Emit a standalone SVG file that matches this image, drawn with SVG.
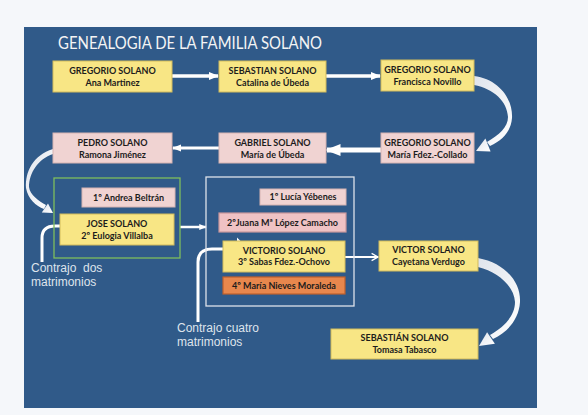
<svg xmlns="http://www.w3.org/2000/svg" width="588" height="415" viewBox="0 0 588 415">
<style>
.y{fill:#f8e685;stroke:#d2bb5c;stroke-width:1}
.p{fill:#f0d3d2;stroke:#d6b3b2;stroke-width:1}
.pk{fill:#efc2c4;stroke:#c9979c;stroke-width:1.2}
.o{fill:#e8874d;stroke:#bf5f2c;stroke-width:1.2}
.t{font-family:Lato,"Liberation Sans",sans-serif;font-weight:bold;font-size:9px;fill:#1c1c1c;text-anchor:middle}
.c{font-family:"Liberation Sans",Arial,sans-serif;font-size:12px;fill:#dfe4ec}
.ln{stroke:#ffffff;fill:none}
.cr{fill:url(#gr);stroke:none}
</style>
<defs>
<linearGradient id="gr" x1="0" y1="0" x2="1" y2="1">
<stop offset="0" stop-color="#dfe4ec"/>
<stop offset="1" stop-color="#ffffff"/>
</linearGradient>
<marker id="ah" viewBox="0 0 10 10" refX="9" refY="5" markerWidth="3" markerHeight="3" orient="auto" markerUnits="strokeWidth">
<path d="M0 1 L10 5 L0 9 Z" fill="#ffffff"/>
</marker>
<marker id="ch" viewBox="0 0 10 10" refX="9" refY="5" markerWidth="4" markerHeight="5" orient="auto" markerUnits="strokeWidth">
<path d="M1 0.5 L9 5 L1 9.5" fill="none" stroke="#ffffff" stroke-width="1.6"/>
</marker>
</defs>
<rect x="0" y="0" width="588" height="415" fill="#f5f7fa"/>
<rect x="24" y="27" width="513" height="381" fill="#305a89"/>
<text x="58" y="49" font-family="Lato,'Liberation Sans',sans-serif" font-size="16.5" fill="#f4f4f4" textLength="264" lengthAdjust="spacingAndGlyphs">GENEALOGIA DE LA FAMILIA SOLANO</text>

<g id="connectors">
<path class="ln" d="M172 76 H218" stroke-width="3.5" marker-end="url(#ah)"/>
<path class="ln" d="M326 76 H380" stroke-width="3.5" marker-end="url(#ah)"/>
<path class="ln" d="M381 150 H327" stroke-width="5" marker-end="url(#ah)"/>
<path class="ln" d="M219 148 H173" stroke-width="3" marker-end="url(#ah)"/>
<path class="ln" d="M180 227 H206" stroke-width="2.5" marker-end="url(#ah)"/>
<path class="ln" d="M345 257 H378" stroke-width="2" marker-end="url(#ch)"/>
<path class="cr" d="M474 76 C498 79 513 98 512 118 C511 131 503 140 490 146 L487 142 C499 135 508 127 508 117 C507 101 494 89 474 85 Z"/>
<path class="cr" d="M476 151 L485.4 138.5 L490.6 151.5 Z"/>
<path class="cr" d="M478 258 C505 263 521 282 520 302 C519 319 508 332 493 339 L490 335 C504 327 515 316 515 302 C514 286 498 272 478 267 Z"/>
<path class="cr" d="M479 346 L487.1 332.2 L494.9 343.8 Z"/>
<path class="cr" d="M53 149 C33 155 25 172 26 188 C28 199 36 206 44 209 L46 205 C39 201 30 195 29 187 C29 173 38 159 53 154 Z"/>
<path class="cr" d="M53 213 L41.8 212.6 L48 203.4 Z"/>
<path class="ln" d="M42 262 V238 Q42 226 55 226 H74" stroke-width="3"/>
<path class="ln" d="M73 221 V217 L83 226 L73 235 V231" stroke-width="2"/>
<path class="ln" d="M198 322 V262 Q198 249 212 249 H238" stroke-width="3"/>
<path class="ln" d="M238 244 V240 L247 249 L238 258 V254" stroke-width="2"/>
</g>

<g id="n1"><rect class="y" x="53" y="61" width="119" height="31"/><text class="t" x="112.5" y="74">GREGORIO SOLANO</text><text class="t" x="112.5" y="85.5">Ana Martinez</text></g>
<g id="n2"><rect class="y" x="219" y="61" width="107" height="31"/><text class="t" x="272.5" y="74">SEBASTIAN SOLANO</text><text class="t" x="272.5" y="85.5">Catalina de Úbeda</text></g>
<g id="n3"><rect class="y" x="381" y="60" width="93" height="31"/><text class="t" x="427.5" y="73">GREGORIO SOLANO</text><text class="t" x="427.5" y="84.5">Francisca Novillo</text></g>
<g id="n4"><rect class="p" x="53" y="133" width="119" height="30"/><text class="t" x="112.5" y="146">PEDRO SOLANO</text><text class="t" x="112.5" y="157.5">Ramona Jiménez</text></g>
<g id="n5"><rect class="p" x="219" y="133" width="107" height="30"/><text class="t" x="272.5" y="146">GABRIEL SOLANO</text><text class="t" x="272.5" y="157.5">María de Úbeda</text></g>
<g id="n6"><rect class="p" x="381" y="133" width="93" height="30"/><text class="t" x="427.5" y="146">GREGORIO SOLANO</text><text class="t" x="427.5" y="157.5">María Fdez.-Collado</text></g>

<g id="g1"><rect x="54" y="178" width="126" height="80" fill="none" stroke="#7fbd5c" stroke-width="1.3"/></g>
<g id="n7"><rect class="p" x="82" y="188" width="93" height="19"/><text class="t" x="128.5" y="200.5">1º Andrea Beltrán</text></g>
<g id="n8"><rect class="y" x="60" y="214" width="114" height="31"/><text class="t" x="117" y="227">JOSE SOLANO</text><text class="t" x="117" y="238.5">2º Eulogia Villalba</text></g>

<g id="g2"><rect x="206" y="177" width="148" height="129" fill="none" stroke="#dde2ea" stroke-width="1.3"/></g>
<g id="n9"><rect class="p" x="260" y="189" width="86" height="16"/><text class="t" x="303" y="200">1º Lucía Yébenes</text></g>
<g id="n10"><rect class="pk" x="219" y="213" width="127" height="19"/><text class="t" x="282.5" y="225.5">2ºJuana Mª López Camacho</text></g>
<g id="n11"><rect class="y" x="223" y="241" width="122" height="31"/><text class="t" x="284" y="253.5">VICTORIO SOLANO</text><text class="t" x="284" y="265">3º Sabas Fdez.-Ochovo</text></g>
<g id="n12"><rect class="o" x="223" y="277" width="122" height="17"/><text class="t" x="284" y="288.5">4º María Nieves Moraleda</text></g>

<g id="n13"><rect class="y" x="379" y="241" width="99" height="30"/><text class="t" x="428.5" y="253">VICTOR SOLANO</text><text class="t" x="428.5" y="264.5">Cayetana Verdugo</text></g>
<g id="n14"><rect class="y" x="331" y="329" width="147" height="30"/><text class="t" x="404.5" y="341">SEBASTIÁN SOLANO</text><text class="t" x="404.5" y="352.5">Tomasa Tabasco</text></g>

<g id="l1"><text class="c" x="31" y="272">Contrajo&#160; dos</text><text class="c" x="31" y="286">matrimonios</text></g>
<g id="l2"><text class="c" x="177" y="332">Contrajo cuatro</text><text class="c" x="177" y="346">matrimonios</text></g>
</svg>
